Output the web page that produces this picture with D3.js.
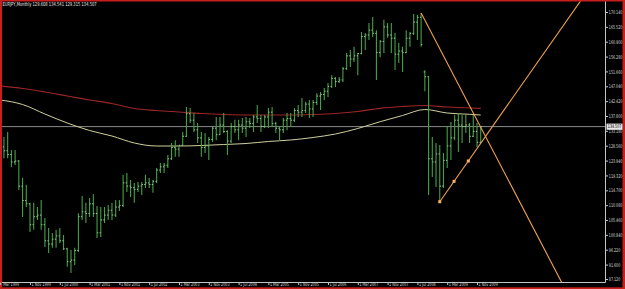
<!DOCTYPE html>
<html>
<head>
<meta charset="utf-8">
<script src="https://cdn.jsdelivr.net/npm/d3@7"></script>
<style>
	html, body { margin: 0; padding: 0; background: #000; }
	svg { display: block; }
	text { font-family: "DejaVu Sans", sans-serif; }
</style>
</head>
<body>
<svg id="chart"></svg>
<script>
'use strict';

// ---------------- data ----------------

var symbolTitle = 'EURJPY,Monthly  129.608 134.541 129.315 134.507';

// one bar per month, Mar 1999 .. Dec 2009
var months = d3.timeMonth.range(new Date(1999, 2, 1), new Date(2010, 0, 1));

var open = [
	127.5, 128.2, 127.0, 125.8, 123.5, 123.8, 116.0, 111.5, 110.5, 104.0,
	106.5, 107.0, 104.0, 99.0, 98.0, 99.5, 100.5, 99.0, 96.5, 92.5,
	93.0, 96.0, 106.5, 108.0, 107.5, 110.5, 107.5, 101.5, 105.5, 107.0,
	108.5, 107.0, 109.5, 110.0, 117.0, 116.0, 115.5, 115.0, 116.0, 116.5,
	117.0, 116.5, 117.5, 121.0, 122.0, 122.5, 124.5, 128.0, 127.5, 128.7,
	131.5, 138.5, 136.5, 133.5, 131.0, 128.0, 128.5, 130.5, 134.0, 132.0,
	135.0, 133.0, 130.0, 134.5, 133.5, 135.0, 134.0, 136.0, 135.5, 137.5,
	137.0, 134.5, 137.5, 139.0, 135.5, 134.0, 133.5, 136.5, 137.0, 136.5,
	139.5, 139.0, 139.5, 141.5, 140.0, 142.0, 144.0, 144.5, 145.5, 147.0,
	149.5, 148.5, 149.0, 152.5, 156.5, 155.5, 156.5, 157.2, 162.5, 163.0,
	164.5, 163.5, 157.5, 161.0, 165.5, 163.0, 162.0, 157.0, 158.0, 157.5,
	162.0, 163.5, 167.0, 168.5, 151.5, 150.0, 124.5, 123.5, 126.0, 116.0,
	124.0, 128.5, 131.0, 136.5, 135.0, 134.5, 135.0, 131.5, 133.0, 129.608
];
var high = [
	131.5, 131.3, 132.8, 127.2, 127.2, 124.1, 118.5, 116.4, 110.8, 110.8,
	109.5, 111.7, 106.1, 103.0, 101.4, 102.4, 103.0, 100.8, 96.8, 96.1,
	96.8, 107.6, 112.9, 110.8, 112.3, 113.5, 109.8, 109.5, 109.5, 110.1,
	110.8, 111.7, 111.7, 119.5, 120.1, 117.9, 117.0, 117.3, 117.3, 119.5,
	118.5, 117.9, 121.6, 123.2, 123.2, 125.7, 129.4, 130.3, 128.8, 132.8,
	140.6, 140.3, 138.7, 135.6, 132.8, 132.5, 131.3, 134.4, 137.5, 137.5,
	138.7, 133.4, 135.6, 136.6, 136.6, 137.2, 137.5, 137.2, 138.1, 141.2,
	138.1, 138.1, 140.3, 140.6, 135.9, 134.4, 137.2, 138.7, 138.7, 140.3,
	141.2, 143.4, 142.2, 142.8, 142.8, 144.9, 145.3, 146.5, 148.1, 150.5,
	149.9, 149.9, 153.0, 157.4, 158.3, 159.3, 157.4, 163.9, 163.6, 166.7,
	168.6, 164.5, 161.4, 167.7, 166.7, 166.7, 163.6, 160.5, 159.3, 164.5,
	163.9, 169.5, 169.3, 169.8, 152.0, 150.2, 131.3, 129.4, 128.8, 126.3,
	134.4, 135.9, 138.1, 138.7, 138.1, 138.1, 135.6, 138.1, 135.6, 134.541
];
var low = [
	125.2, 124.7, 124.7, 121.9, 122.6, 114.8, 106.4, 109.5, 101.7, 102.4,
	105.5, 102.4, 97.1, 95.2, 96.8, 96.8, 98.3, 96.1, 90.9, 89.0,
	91.5, 95.5, 105.5, 104.5, 106.4, 106.4, 99.9, 100.2, 104.5, 105.5,
	105.5, 106.4, 108.3, 109.5, 114.2, 112.6, 110.8, 114.2, 113.2, 115.4,
	115.4, 113.9, 117.0, 120.1, 120.1, 121.6, 124.1, 125.1, 125.1, 128.5,
	131.3, 135.6, 132.8, 129.4, 125.1, 126.3, 124.1, 129.7, 130.3, 131.9,
	132.5, 125.7, 129.4, 132.5, 130.3, 132.5, 131.3, 134.1, 132.8, 135.6,
	132.8, 134.1, 134.1, 134.4, 132.5, 130.3, 132.5, 133.4, 134.4, 135.9,
	137.5, 137.5, 138.7, 137.2, 137.5, 141.2, 139.7, 142.8, 143.7, 146.5,
	146.8, 148.1, 148.4, 152.1, 153.0, 154.6, 150.5, 157.0, 158.3, 161.4,
	162.4, 149.0, 156.1, 157.4, 162.1, 157.4, 152.1, 154.3, 151.5, 157.4,
	159.3, 163.0, 161.4, 159.3, 145.5, 113.2, 118.8, 115.7, 111.15, 115.4,
	121.6, 124.1, 130.3, 126.6, 129.4, 132.5, 129.4, 131.3, 128.2, 129.315
];
var close = [
	128.2, 127.0, 125.8, 123.5, 123.8, 116.0, 111.5, 110.5, 104.0, 106.5,
	107.0, 104.0, 99.0, 98.0, 99.5, 100.5, 99.0, 96.5, 92.5, 93.0,
	96.0, 106.5, 108.0, 107.5, 110.5, 107.5, 101.5, 105.5, 107.0, 108.5,
	107.0, 109.5, 110.0, 117.0, 116.0, 115.5, 115.0, 116.0, 116.5, 117.0,
	116.5, 117.5, 121.0, 122.0, 122.5, 124.5, 128.0, 127.5, 128.7, 131.5,
	138.5, 136.5, 133.5, 131.0, 128.0, 128.5, 130.5, 134.0, 132.0, 135.0,
	133.0, 130.0, 134.5, 133.5, 135.0, 134.0, 136.0, 135.5, 137.5, 137.0,
	134.5, 137.5, 139.0, 135.5, 134.0, 133.5, 136.5, 137.0, 136.5, 139.5,
	139.0, 139.5, 141.5, 140.0, 142.0, 144.0, 144.5, 145.5, 147.0, 149.5,
	148.5, 149.0, 152.5, 156.5, 155.5, 156.5, 157.2, 162.5, 163.0, 164.5,
	163.5, 157.5, 161.0, 165.5, 163.0, 162.0, 157.0, 158.0, 157.5, 162.0,
	163.5, 167.0, 168.5, 160.0, 150.0, 124.5, 123.5, 126.0, 116.0, 124.0,
	128.5, 131.0, 136.5, 135.0, 134.5, 135.0, 131.5, 133.0, 129.6, 134.507
];

// moving averages, sampled at these months
var maMonths = [
	'1999-03', '1999-09', '2000-03', '2000-09', '2001-03', '2001-09', '2002-03', '2002-09',
	'2003-03', '2003-09', '2004-03', '2004-09', '2005-03', '2005-09', '2006-03', '2006-09',
	'2007-03', '2007-09', '2008-03', '2008-09', '2009-03', '2009-09', '2009-12'
];
var maRed = [
	147.13, 146.35, 145.26, 144.02, 142.78, 141.69, 140.13, 139.51,
	139.05, 138.58, 138.27, 138.11, 138.11, 138.11, 138.27, 138.58,
	139.20, 140.20, 140.76, 141.07, 140.60, 140.29, 140.20
];
var maYellow = [
	142.78, 141.38, 138.42, 135.63, 133.29, 131.58, 129.41, 128.47,
	128.47, 128.63, 128.94, 129.25, 129.87, 130.34, 131.12, 132.21,
	133.92, 136.03, 137.96, 139.82, 138.73, 138.33, 138.11
];

// trend lines (rays): two anchors each [date, price]
var trendDown = [['2008-08', 169.8], ['2009-12', 134.3]];
var trendUp = [['2009-01', 111.15], ['2009-08-21', 123.81]];

var currentPrice = 134.507;

var priceTicks = [
	'170.140', '165.520', '160.900', '156.280', '151.660', '147.040', '142.420',
	'137.800', '133.180', '128.560', '123.940', '119.320', '114.700', '110.080',
	'105.460', '100.840', '96.220', '91.600', '87.120'
];
var timeTicks = [
	'1999-03', '1999-11', '2000-07', '2001-03', '2001-11', '2002-07', '2003-03',
	'2003-11', '2004-07', '2005-03', '2005-11', '2006-07', '2007-03', '2007-11',
	'2008-07', '2009-03', '2009-11'
];

// ---------------- drawing ----------------

var width = 625, height = 289;
var plot = { left: 2, top: 1.5, right: 605.5, bottom: 282.5 };

var colors = {
	frame: '#c81e1e',
	axis: '#c4c4c4',
	text: '#d8d8d8',
	bar: '#44a044',
	barTick: '#a8e0a8',
	maRed: '#9b2626',
	maYellow: '#cfcf9c',
	priceLine: '#8a8a8a',
	trend: '#f2a24e'
};

// horizontal squeeze for the small, narrow MT4 labels
var squeeze = 0.66;

// bar index of a 'YYYY-MM' or 'YYYY-MM-DD' string
function monthIndex(s) {
	var p = s.split('-').map(Number);
	return (p[0] - 1999) * 12 + (p[1] - 3) + ((p[2] || 1) - 1) / 30;
}

var svg = d3.select('#chart')
	.attr('width', width)
	.attr('height', height);

// window frame
svg.append('rect')
	.attr('width', width).attr('height', height)
	.attr('fill', colors.frame);
svg.append('rect')
	.attr('x', 2).attr('y', 1.5)
	.attr('width', 620.5).attr('height', 285.8)
	.attr('fill', '#000');

svg.append('clipPath').attr('id', 'plotClip')
	.append('rect')
	.attr('x', plot.left).attr('y', plot.top)
	.attr('width', plot.right - plot.left).attr('height', plot.bottom - plot.top);

// x/y-scale
var xScale = d3.scaleLinear()
	.domain([0, 129])
	.range([0.2, 0.2 + 129 * 3.725]);
var yScale = d3.scaleLinear()
	.domain([87.12, 170.14])
	.range([279, 12]);

var chart = svg.append('g').attr('clip-path', 'url(#plotClip)');

// current price line
chart.append('line')
	.attr('x1', plot.left).attr('x2', plot.right)
	.attr('y1', yScale(currentPrice)).attr('y2', yScale(currentPrice))
	.attr('stroke', colors.priceLine)
	.attr('stroke-width', 1);

// moving averages
var maLine = d3.line()
	.x(function(d) { return xScale(monthIndex(d[0])); })
	.y(function(d) { return yScale(d[1]); })
	.curve(d3.curveMonotoneX);

chart.append('path')
	.datum(d3.zip(maMonths, maRed))
	.attr('d', maLine)
	.attr('fill', 'none')
	.attr('stroke', colors.maRed)
	.attr('stroke-width', 1.2);
chart.append('path')
	.datum(d3.zip(maMonths, maYellow))
	.attr('d', maLine)
	.attr('fill', 'none')
	.attr('stroke', colors.maYellow)
	.attr('stroke-width', 1);

// OHLC bars
var bars = chart.append('g').attr('class', 'bars')
	.selectAll('g').data(months)
	.enter()
	.append('g');

bars.append('line')
	.attr('x1', function(d, i) { return xScale(i); })
	.attr('x2', function(d, i) { return xScale(i); })
	.attr('y1', function(d, i) { return yScale(high[i]); })
	.attr('y2', function(d, i) { return yScale(low[i]); })
	.attr('stroke', colors.bar)
	.attr('stroke-width', 1.1);
bars.append('line')
	.attr('x1', function(d, i) { return xScale(i) - 1.2; })
	.attr('x2', function(d, i) { return xScale(i); })
	.attr('y1', function(d, i) { return yScale(open[i]); })
	.attr('y2', function(d, i) { return yScale(open[i]); })
	.attr('stroke', colors.barTick)
	.attr('stroke-width', 0.9);
bars.append('line')
	.attr('x1', function(d, i) { return xScale(i); })
	.attr('x2', function(d, i) { return xScale(i) + 1.2; })
	.attr('y1', function(d, i) { return yScale(close[i]); })
	.attr('y2', function(d, i) { return yScale(close[i]); })
	.attr('stroke', colors.barTick)
	.attr('stroke-width', 0.9);

// trend lines, drawn as rays from the first anchor
function ray(anchors) {
	var t0 = monthIndex(anchors[0][0]), p0 = anchors[0][1];
	var t1 = monthIndex(anchors[1][0]), p1 = anchors[1][1];
	var tEnd = t0 + 80;
	var pEnd = p0 + (p1 - p0) * (tEnd - t0) / (t1 - t0);
	return [[xScale(t0), yScale(p0)], [xScale(tEnd), yScale(pEnd)]];
}

[trendDown, trendUp].forEach(function(anchors) {
	chart.append('path')
		.attr('d', d3.line()(ray(anchors)))
		.attr('fill', 'none')
		.attr('stroke', colors.trend)
		.attr('stroke-width', 1.1);
});

// anchor markers on the rising line (start, middle, end)
var upPts = trendUp.map(function(a) { return [monthIndex(a[0]), a[1]]; });
var markers = [upPts[0], [(upPts[0][0] + upPts[1][0]) / 2, (upPts[0][1] + upPts[1][1]) / 2], upPts[1]];
chart.append('g').selectAll('rect').data(markers)
	.enter()
	.append('rect')
	.attr('x', function(d) { return xScale(d[0]) - 1.5; })
	.attr('y', function(d) { return yScale(d[1]) - 1.5; })
	.attr('width', 3).attr('height', 3)
	.attr('fill', '#f8b060');

// axis frame lines
svg.append('line')
	.attr('x1', plot.right).attr('x2', plot.right)
	.attr('y1', plot.top).attr('y2', plot.bottom)
	.attr('stroke', colors.axis).attr('stroke-width', 1);
svg.append('line')
	.attr('x1', plot.left).attr('x2', plot.right)
	.attr('y1', plot.bottom).attr('y2', plot.bottom)
	.attr('stroke', colors.axis).attr('stroke-width', 1);

// price axis (right)
var yAxis = d3.axisRight(yScale)
	.tickValues(priceTicks.map(Number))
	.tickFormat(function(d, i) { return priceTicks[i]; })
	.tickSize(2.5)
	.tickPadding(0.8);
var yAxisG = svg.append('g')
	.attr('transform', 'translate(' + plot.right + ',0)')
	.call(yAxis);
yAxisG.select('.domain').remove();
yAxisG.selectAll('line').attr('stroke', colors.axis);
yAxisG.selectAll('text')
	.attr('fill', colors.text)
	.attr('font-size', 5)
	.attr('x', 3.3 / squeeze)
	.attr('transform', 'scale(' + squeeze + ',1)');

// time axis (bottom), labels to the right of each tick
var timeFmt = d3.timeFormat('%-d %b %Y');
var firstFmt = d3.timeFormat('%b %Y');
var yearMonth = d3.timeParse('%Y-%m');
var xAxis = d3.axisBottom(xScale)
	.tickValues(timeTicks.map(monthIndex))
	.tickFormat(function(d, i) {
		return (i === 0 ? firstFmt : timeFmt)(yearMonth(timeTicks[i]));
	})
	.tickSize(2.5);
var xAxisG = svg.append('g')
	.attr('transform', 'translate(0,' + plot.bottom + ')')
	.call(xAxis);
xAxisG.select('.domain').remove();
xAxisG.selectAll('line').attr('stroke', colors.axis);
xAxisG.selectAll('text')
	.attr('fill', colors.text)
	.attr('font-size', 4.8)
	.attr('text-anchor', 'start')
	.attr('x', function(d, i) { return (i === 0 ? 2.5 : 1) / 0.7; })
	.attr('y', 0)
	.attr('dy', '3.9')
	.attr('transform', 'scale(0.7,1)');

// current price label
var cy = yScale(currentPrice);
svg.append('rect')
	.attr('x', 606.5).attr('y', cy - 3)
	.attr('width', 16).attr('height', 6.2)
	.attr('fill', '#e6e6e6');
svg.append('text')
	.attr('x', 607.8 / squeeze).attr('y', cy + 1.9)
	.attr('transform', 'scale(' + squeeze + ',1)')
	.attr('fill', '#000')
	.attr('font-size', 5)
	.text(currentPrice.toFixed(3));

// title
svg.append('text')
	.attr('x', 2.5 / 0.68).attr('y', 6)
	.attr('transform', 'scale(0.68,1)')
	.attr('fill', '#e8e8e8')
	.attr('font-size', 5.4)
	.text(symbolTitle);
</script>
</body>
</html>
